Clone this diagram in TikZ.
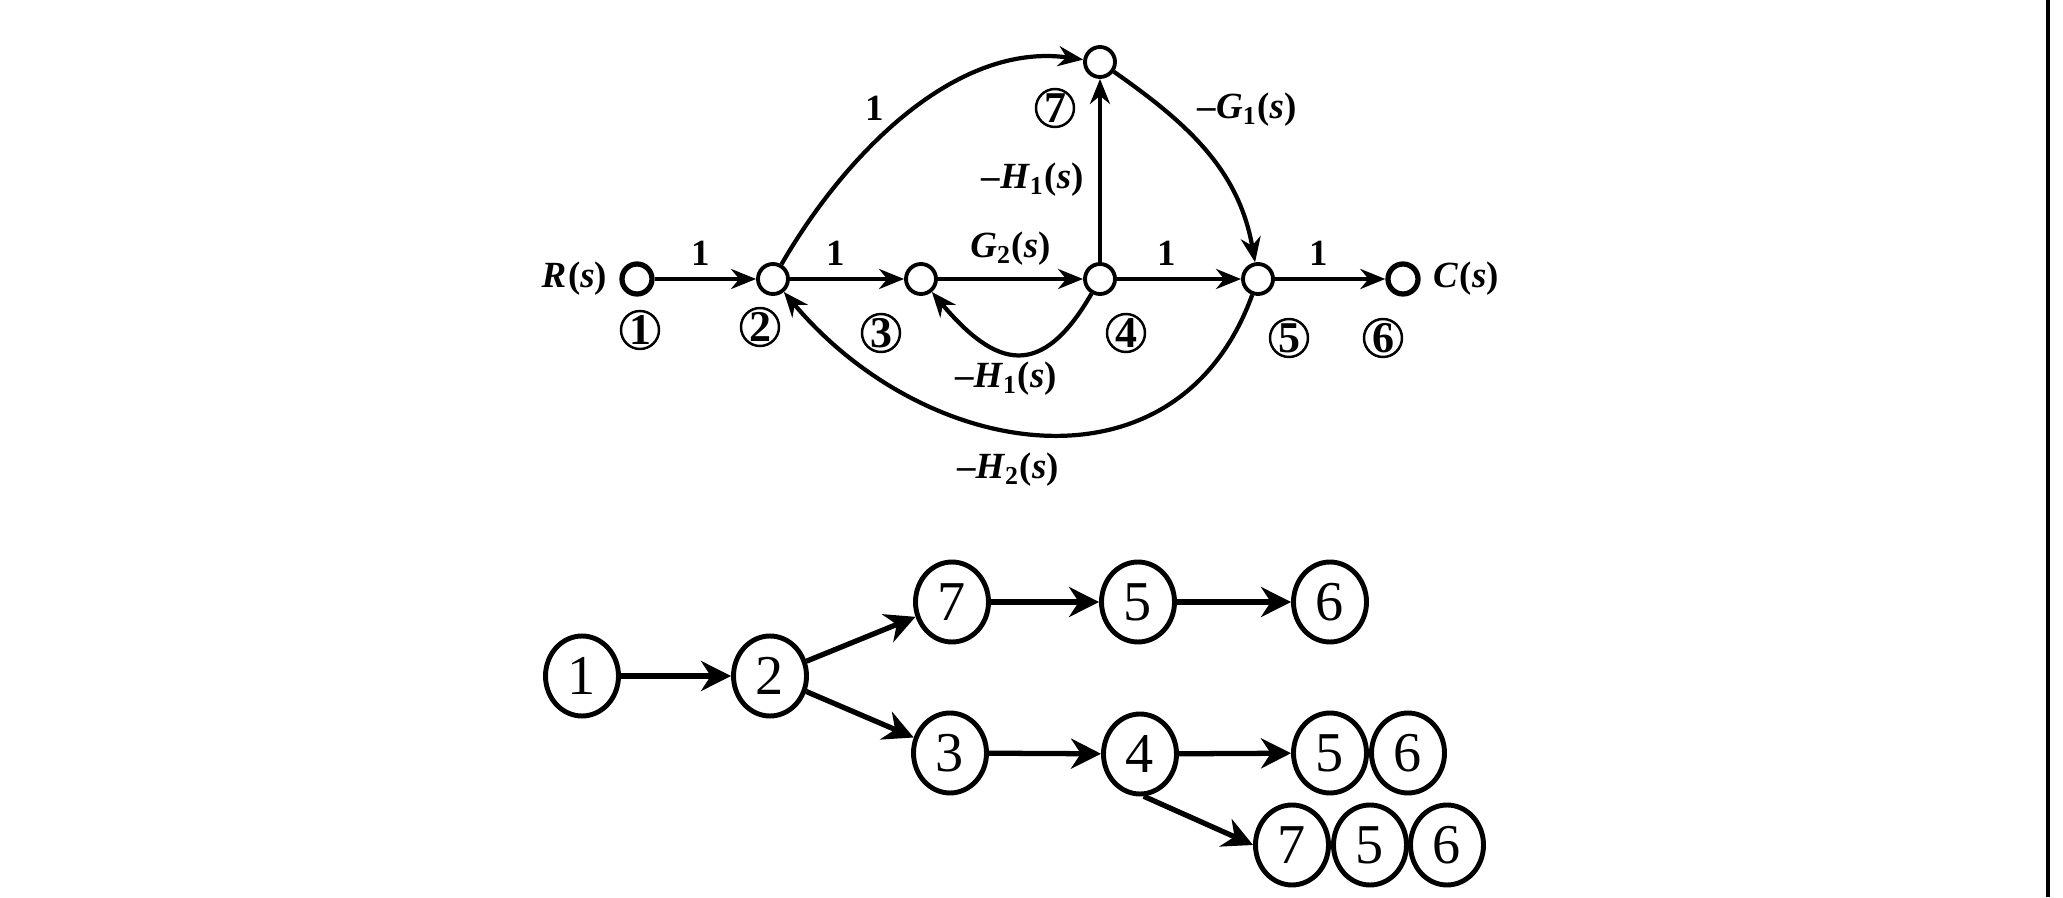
\documentclass[tikz,border=0pt]{standalone}
\usepackage{fontspec}
\setmainfont{Liberation Serif}
\usetikzlibrary{positioning,arrows.meta,shapes.geometric}
\newcommand{\tfn}[2]{\textit{#1}\textsubscript{#2}(\textit{s})}
\begin{document}
\begin{tikzpicture}
    \tikzstyle{sig} = [circle, draw, line width=1.1pt, minimum size=0.30cm, inner sep=0pt]
    \tikzstyle{num} = [circle, draw, line width=0.7pt, minimum size=0.38cm, inner sep=0pt, font=\fontsize{12.5}{12.5}\selectfont\bfseries]
    \tikzstyle{big} = [ellipse, draw, line width=1.4pt, minimum width=0.73cm, minimum height=0.80cm, inner sep=0pt, font=\fontsize{16}{16}\selectfont]
    \tikzstyle{gain} = [font=\fontsize{10.5}{12}\selectfont\bfseries]
    \tikzstyle{br} = [line width=1.2pt, -{Stealth[length=0.25cm,width=0.2cm]}]
    \tikzstyle{tr} = [line width=1.5pt, -{Stealth[length=0.30cm,width=0.30cm]}]
    \useasboundingbox (0,0) rectangle (20.63,8.97);
    \node [sig, line width=1.5pt] (n1) at (6.37,6.18) {};
    \node [sig] (n2) at (7.73,6.18) {};
    \node [sig] (n3) at (9.21,6.18) {};
    \node [sig] (n4) at (11.00,6.18) {};
    \node [sig] (n5) at (12.58,6.18) {};
    \node [sig, line width=1.5pt] (n6) at (14.03,6.18) {};
    \node [sig] (n7) at (11.00,8.35) {};
    \node [gain, left=0pt of n1] (rs) {\tfn{R}{}};
    \node [gain, right=0pt of n6] (cs) {\tfn{C}{}};
    \node [num] (c1) at (6.40,5.67) {1};
    \node [num] (c2) at (7.60,5.70) {2};
    \node [num] (c3) at (8.81,5.64) {3};
    \node [num] (c4) at (11.26,5.64) {4};
    \node [num] (c5) at (12.89,5.59) {5};
    \node [num] (c6) at (13.83,5.59) {6};
    \node [num] (c7) at (10.55,7.89) {7};
    \draw [br] (n1) -- node [gain, above, pos=0.45] (g12) {1} (n2);
    \draw [br] (n2) -- node [gain, above, pos=0.4] (g23) {1} (n3);
    \draw [br] (n3) -- node [gain, above] (g34) {\tfn{G}{2}} (n4);
    \draw [br] (n4) -- node [gain, above, pos=0.4] (g45) {1} (n5);
    \draw [br] (n5) -- node [gain, above, pos=0.4] (g56) {1} (n6);
    \draw [br] (n4) -- (n7);
    \draw [br] (n2) to [out=60, in=172, looseness=0.9] (n7);
    \draw [br] (n7) to [out=-35, in=100] (n5);
    \draw [br] (n4) to [out=-120, in=-50, looseness=1.6] (n3);
    \draw [br] (n5) to [out=-110, in=-50, looseness=1.2] (n2);
    \node [gain] (g27) at (8.75,7.89) {1};
    \node [gain] (g75) at (12.47,7.87) {\textendash\tfn{G}{1}};
    \node [gain, anchor=east] (g47) at (10.96,7.17) {\textendash\tfn{H}{1}};
    \node [gain] (g43) at (10.06,5.18) {\textendash\tfn{H}{1}};
    \node [gain] (g52) at (10.08,4.27) {\textendash\tfn{H}{2}};
    \node [big] (t1) at (5.82,2.21) {1};
    \node [big] (t2) at (7.70,2.21) {2};
    \node [big] (t7) at (9.52,2.95) {7};
    \node [big] (t5) at (11.38,2.95) {5};
    \node [big] (t6) at (13.30,2.95) {6};
    \node [big] (t3) at (9.50,1.44) {3};
    \node [big] (t4) at (11.40,1.43) {4};
    \node [big] (a5) at (13.30,1.44) {5};
    \node [big] (a6) at (14.08,1.44) {6};
    \node [big] (b7) at (12.92,0.52) {7};
    \node [big] (b5) at (13.70,0.52) {5};
    \node [big] (b6) at (14.47,0.52) {6};
    \draw [tr] (t1) -- (t2);
    \draw [tr] (t2) -- (t7);
    \draw [tr] (t2) -- (t3);
    \draw [tr] (t7) -- (t5);
    \draw [tr] (t5) -- (t6);
    \draw [tr] (t3) -- (t4);
    \draw [tr] (t4) -- (a5);
    \draw [tr] (t4.-85) -- (b7.180);
    \draw [line width=1.2pt] (20.48,0) -- (20.48,8.97);
\end{tikzpicture}
\end{document}
